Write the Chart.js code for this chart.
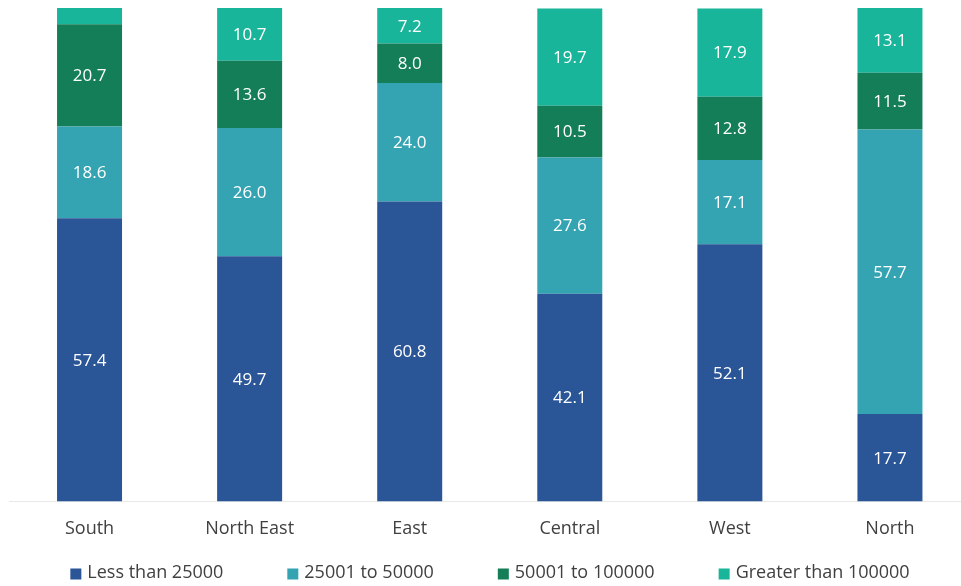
<!DOCTYPE html>
<html>
<head>
<meta charset="utf-8">
<script src="https://cdn.jsdelivr.net/npm/chart.js@4/dist/chart.umd.min.js"></script>
<style>
  html, body { margin: 0; padding: 0; background: #fff; overflow: hidden; }
  #wrap { width: 970px; height: 586px; }
</style>
</head>
<body>
<div id="wrap"><canvas id="chart"></canvas></div>
<script>
// Data
const regions = ['South', 'North East', 'East', 'Central', 'West', 'North'];
const lessThan25000 = [57.4, 49.7, 60.8, 42.1, 52.1, 17.7];
const from25001To50000 = [18.6, 26.0, 24.0, 27.6, 17.1, 57.7];
const from50001To100000 = [20.7, 13.6, 8.0, 10.5, 12.8, 11.5];
const greaterThan100000 = [3.3, 10.7, 7.2, 19.7, 17.9, 13.1];

const seriesNames = ['Less than 25000', '25001 to 50000', '50001 to 100000', 'Greater than 100000'];
const seriesColors = ['#2a5597', '#34a4b2', '#147e58', '#19b59a'];
const textColor = '#404040';
const fontFamily = '"Open Sans", sans-serif';

// Draw value labels inside each segment
const barLabels = {
  id: 'barLabels',
  afterDatasetsDraw(chart) {
    const ctx = chart.ctx;
    ctx.save();
    ctx.font = '17px ' + fontFamily;
    ctx.fillStyle = '#ffffff';
    ctx.textAlign = 'center';
    ctx.textBaseline = 'middle';
    chart.data.datasets.forEach((ds, i) => {
      chart.getDatasetMeta(i).data.forEach((bar, j) => {
        const v = ds.data[j];
        if (v < 5) return;
        const mid = (bar.y + bar.base) / 2;
        ctx.fillText(v.toFixed(1), bar.x, mid + 1);
      });
    });
    ctx.restore();
  }
};

// Simple legend along the bottom
const bottomLegend = {
  id: 'bottomLegend',
  afterDraw(chart) {
    const ctx = chart.ctx;
    const box = 11, boxGap = 6, itemGap = 64;
    ctx.save();
    ctx.font = '18px ' + fontFamily;
    ctx.textBaseline = 'middle';
    const widths = seriesNames.map(n => box + boxGap + ctx.measureText(n).width);
    const total = widths.reduce((a, b) => a + b, 0) + itemGap * (widths.length - 1);
    let x = 490 - total / 2;
    const y = 573;
    seriesNames.forEach((name, i) => {
      ctx.fillStyle = seriesColors[i];
      ctx.fillRect(x, y - box / 2 + 1, box, box);
      ctx.fillStyle = textColor;
      ctx.fillText(name, x + box + boxGap, y);
      x += widths[i] + itemGap;
    });
    ctx.restore();
  }
};

const allSeries = [lessThan25000, from25001To50000, from50001To100000, greaterThan100000];

new Chart(document.getElementById('chart'), {
  type: 'bar',
  data: {
    labels: regions,
    datasets: allSeries.map((d, i) => ({
      label: seriesNames[i],
      data: d,
      backgroundColor: seriesColors[i],
      borderWidth: 0,
      barPercentage: 0.406,
      categoryPercentage: 1.0
    }))
  },
  options: {
    responsive: true,
    maintainAspectRatio: false,
    animation: false,
    layout: { padding: { left: 9.5, right: 0, top: 8, bottom: 37 } },
    scales: {
      x: {
        stacked: true,
        grid: { display: false },
        border: { display: true, color: '#e8e8e4', width: 1 },
        ticks: {
          color: textColor,
          font: { family: fontFamily, size: 18 },
          padding: 9
        }
      },
      y: {
        stacked: true,
        min: 0,
        max: 100,
        display: false
      }
    },
    plugins: {
      legend: { display: false },
      tooltip: { enabled: false }
    }
  },
  plugins: [barLabels, bottomLegend]
});
</script>
</body>
</html>
